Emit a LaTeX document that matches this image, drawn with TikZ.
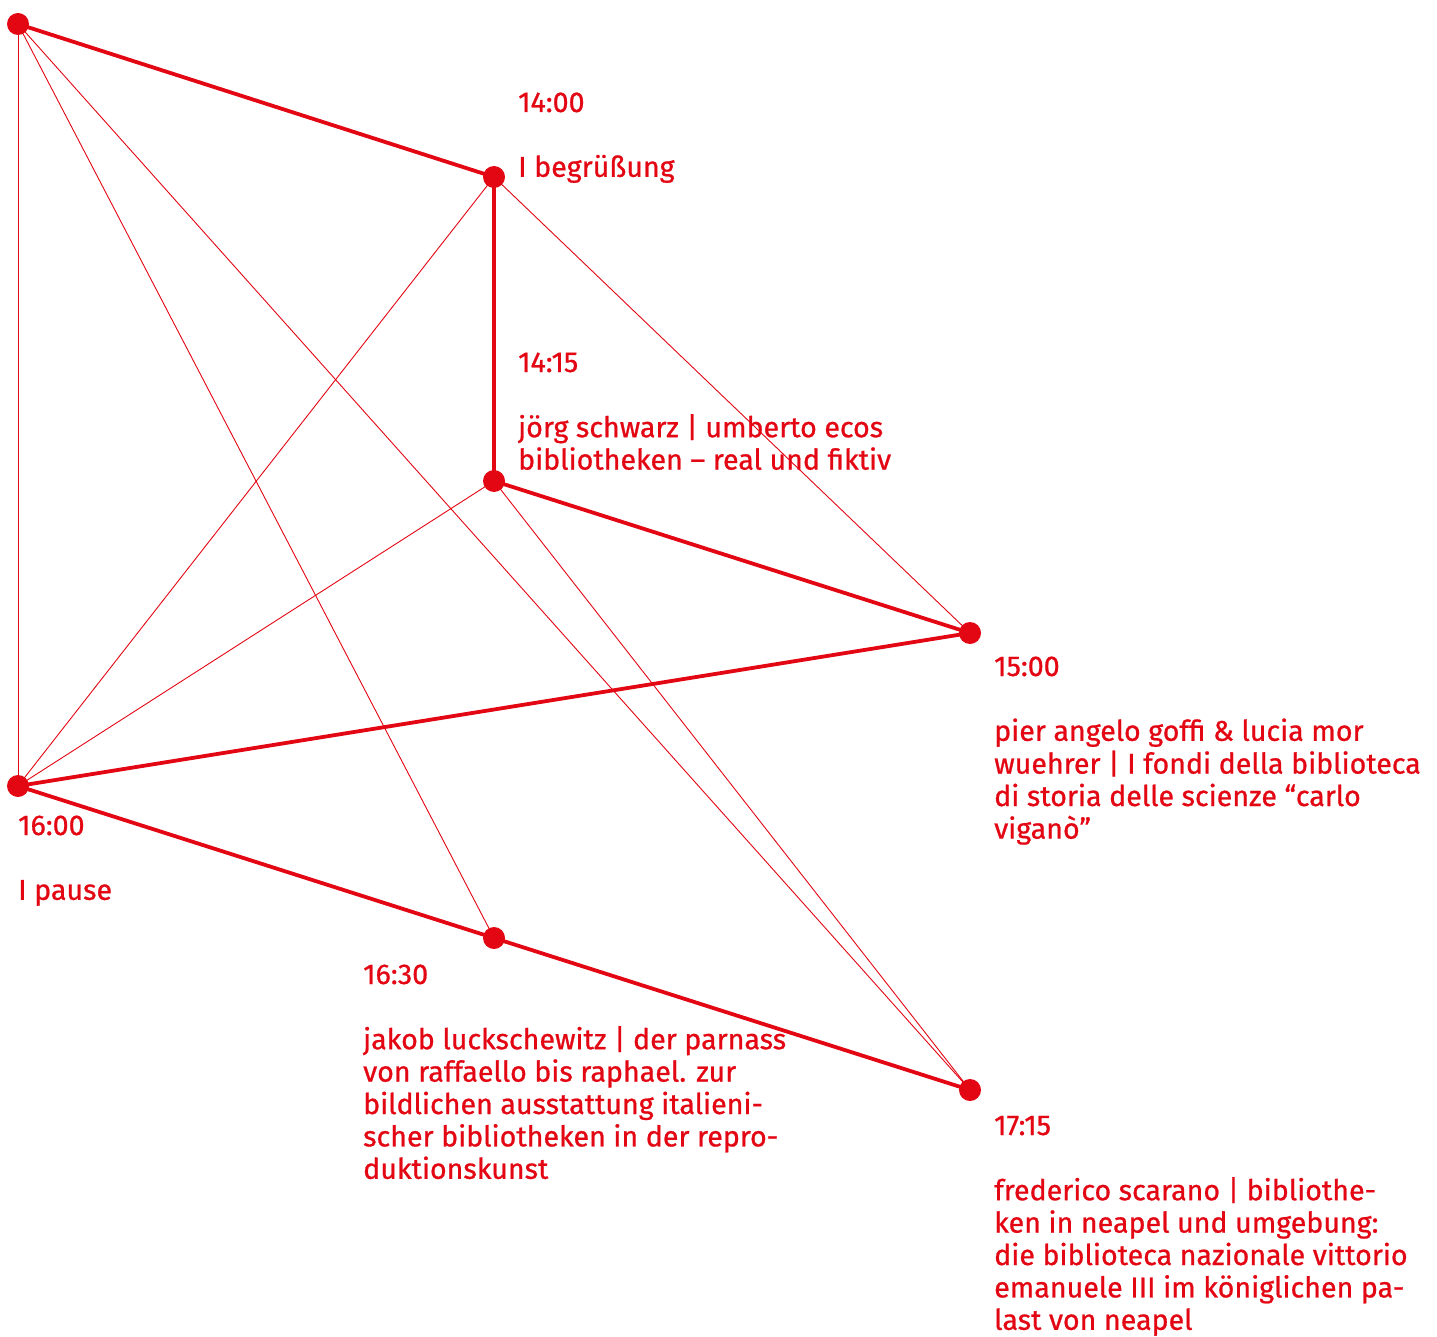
\documentclass[tikz,border=0pt]{standalone}
\usepackage{fontspec}
\setmainfont[FakeBold=0.8]{Fira Sans}
\definecolor{rd}{HTML}{E30613}
\newcommand{\blk}[1]{\begin{tabular}[t]{@{}l@{}}#1\end{tabular}}
\begin{document}
\begin{tikzpicture}[x=1pt,y=-1pt,
  dot/.style={circle,fill=rd,inner sep=0pt,minimum size=22pt},
  thick line/.style={draw=rd,line width=3.8pt},
  thin line/.style={draw=rd,line width=0.9pt},
  lbl/.style={anchor=base west,inner sep=0pt,text=rd,font=\fontsize{28.6}{32.4}\selectfont}]
\useasboundingbox (0,0) rectangle (1437,1337);
\node[dot] (a) at (18,24) {};
\node[dot] (b) at (494,177) {};
\node[dot] (c) at (494,481) {};
\node[dot] (d) at (970,633) {};
\node[dot] (e) at (18,786) {};
\node[dot] (f) at (494,938) {};
\node[dot] (g) at (970,1090) {};
\foreach \p/\q in {a/e,a/f,a/g,b/e,b/d,c/e,c/g}
  \draw[thin line] (\p.center) -- (\q.center);
\foreach \p/\q in {a/b,b/c,c/d,d/e,e/f,f/g}
  \draw[thick line] (\p.center) -- (\q.center);
\node[lbl] (tb) at (518,112) {\blk{14:00\\ \\I begrüßung}};
\node[lbl] (tc) at (518,372) {\blk{14:15\\ \\jörg schwarz | umberto ecos\\bibliotheken – real und fiktiv}};
\node[lbl] (td) at (994,676) {\blk{15:00\\ \\pier angelo goffi \& lucia mor\\wuehrer | I fondi della biblioteca\\di storia delle scienze “carlo\\viganò”}};
\node[lbl] (te) at (18,835) {\blk{16:00\\ \\I pause}};
\node[lbl] (tf) at (363,984) {\blk{16:30\\ \\jakob luckschewitz | der parnass\\von raffaello bis raphael. zur\\bildlichen ausstattung italieni-\\scher bibliotheken in der repro-\\duktionskunst}};
\node[lbl] (tg) at (994,1135) {\blk{17:15\\ \\frederico scarano | bibliothe-\\ken in neapel und umgebung:\\die biblioteca nazionale vittorio\\emanuele III im königlichen pa-\\last von neapel}};
\end{tikzpicture}
\end{document}
